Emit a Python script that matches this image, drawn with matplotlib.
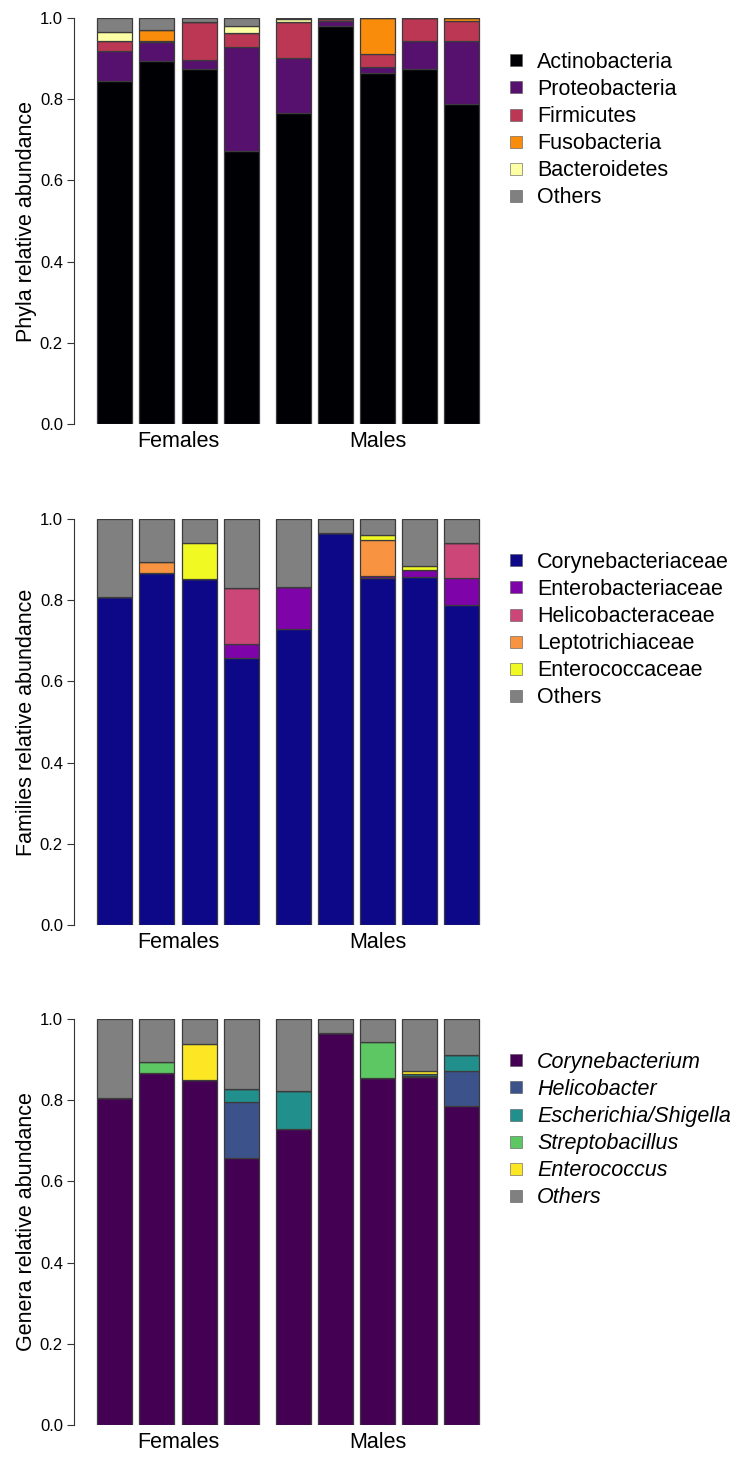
import numpy as np
import matplotlib
matplotlib.use("Agg")
import matplotlib.pyplot as plt
from matplotlib.lines import Line2D

plt.rcParams['font.family'] = ['Liberation Sans', 'DejaVu Sans']

samples = ["F1", "F2", "F3", "F4", "M1", "M2", "M3", "M4", "M5"]
groups = ["Females", "Males"]
group_size = [4, 5]

# phyla
phyla = ["Actinobacteria", "Proteobacteria", "Firmicutes", "Fusobacteria", "Bacteroidetes", "Others"]
phyla_colors = ["#000004", "#56106E", "#BB3754", "#F98C0A", "#FCFFA4", "#808080"]
actino = [0.846, 0.894, 0.875, 0.673, 0.767, 0.980, 0.865, 0.875, 0.789]
proteo = [0.072, 0.048, 0.021, 0.255, 0.135, 0.013, 0.015, 0.068, 0.154]
firmic = [0.025, 0.001, 0.093, 0.034, 0.088, 0.005, 0.031, 0.057, 0.050]
fusob = [0.000, 0.027, 0.000, 0.000, 0.000, 0.000, 0.089, 0.000, 0.007]
bacter = [0.023, 0.000, 0.000, 0.019, 0.007, 0.000, 0.000, 0.000, 0.000]
phyla_oth = [0.034, 0.030, 0.011, 0.019, 0.003, 0.002, 0.000, 0.000, 0.000]

# families
families = ["Corynebacteriaceae", "Enterobacteriaceae", "Helicobacteraceae", "Leptotrichiaceae", "Enterococcaceae", "Others"]
fam_colors = ["#0D0887", "#7E03A8", "#CC4678", "#F89441", "#F0F921", "#808080"]
coryneb = [0.807, 0.867, 0.852, 0.658, 0.728, 0.966, 0.855, 0.857, 0.787]
enterob = [0.000, 0.000, 0.000, 0.035, 0.105, 0.000, 0.005, 0.017, 0.067]
helicob = [0.000, 0.000, 0.000, 0.138, 0.000, 0.000, 0.000, 0.000, 0.086]
leptotr = [0.000, 0.026, 0.000, 0.000, 0.000, 0.000, 0.089, 0.000, 0.000]
enteroc = [0.000, 0.000, 0.090, 0.000, 0.000, 0.000, 0.012, 0.011, 0.000]
fam_oth = [0.193, 0.107, 0.058, 0.169, 0.167, 0.034, 0.039, 0.115, 0.060]

# genera
genera = ["Corynebacterium", "Helicobacter", "Escherichia/Shigella", "Streptobacillus", "Enterococcus", "Others"]
gen_colors = ["#440154", "#3B528B", "#21908C", "#5DC863", "#FDE725", "#808080"]
coryne = [0.805, 0.867, 0.850, 0.657, 0.728, 0.966, 0.854, 0.857, 0.786]
helico = [0.000, 0.000, 0.000, 0.138, 0.000, 0.000, 0.000, 0.003, 0.086]
escher = [0.000, 0.000, 0.000, 0.033, 0.095, 0.000, 0.000, 0.004, 0.039]
strepto = [0.000, 0.028, 0.000, 0.000, 0.000, 0.000, 0.090, 0.000, 0.000]
enteroco = [0.000, 0.000, 0.089, 0.000, 0.000, 0.000, 0.000, 0.009, 0.000]
gen_oth = [0.195, 0.105, 0.061, 0.172, 0.177, 0.034, 0.056, 0.127, 0.089]

panels = [
    ("Phyla relative abundance", phyla, phyla_colors,
     [actino, proteo, firmic, fusob, bacter, phyla_oth], False),
    ("Families relative abundance", families, fam_colors,
     [coryneb, enterob, helicob, leptotr, enteroc, fam_oth], False),
    ("Genera relative abundance", genera, gen_colors,
     [coryne, helico, escher, strepto, enteroco, gen_oth], True),
]

# bar positions like R barplot (space 0.2, extra gap between groups)
pos = np.arange(len(samples)) * 1.2
pos[4:] += 0.3
group_centers = [pos[:4].mean(), pos[4:].mean()]

fig = plt.figure(figsize=(7.42, 14.58), dpi=100)
W, H = 742, 1458
bottoms_px = [424, 925, 1425]
legend_top_px = [52, 552, 1052]

for (ylab, names, colors, series, italic), bpx, ltop in zip(panels, bottoms_px, legend_top_px):
    ax = fig.add_axes([74 / W, 1 - bpx / H, 416 / W, 406 / H])
    bottom = np.zeros(len(samples))
    for vals, c in zip(series, colors):
        vals = np.array(vals)
        ax.bar(pos, vals, width=1.0, bottom=bottom, color=c,
               edgecolor="#3c3c3c", linewidth=0.9)
        bottom += vals
    ax.set_ylim(0, 1)
    ax.set_xlim(-1.17, 10.71)
    for s in ["top", "right", "bottom"]:
        ax.spines[s].set_visible(False)
    ax.spines["left"].set_color("#333333")
    ax.set_yticks([0, 0.2, 0.4, 0.6, 0.8, 1.0])
    ax.set_yticklabels(["0.0", "0.2", "0.4", "0.6", "0.8", "1.0"])
    ax.tick_params(axis="y", labelsize=12, length=5, color="#333333", pad=3)
    ax.set_xticks(group_centers)
    ax.set_xticklabels(groups)
    ax.tick_params(axis="x", labelsize=15.5, length=0, pad=5)
    ax.set_ylabel(ylab, fontsize=15.5)
    ax.yaxis.set_label_coords(-0.09, 0.5)

    handles = [Line2D([], [], marker="s", linestyle="none", markersize=8,
                      markerfacecolor=c, markeredgecolor="#555555",
                      markeredgewidth=0.4) for c in colors]
    prop = {"size": 15.5, "style": "italic" if italic else "normal"}
    fig.legend(handles, names, loc="upper left",
               bbox_to_anchor=(510 / W, 1 - ltop / H),
               frameon=False, prop=prop, handlelength=0.6,
               handletextpad=0.65, labelspacing=0.28, borderpad=0,
               borderaxespad=0)

fig.savefig("out.png", dpi=100)
